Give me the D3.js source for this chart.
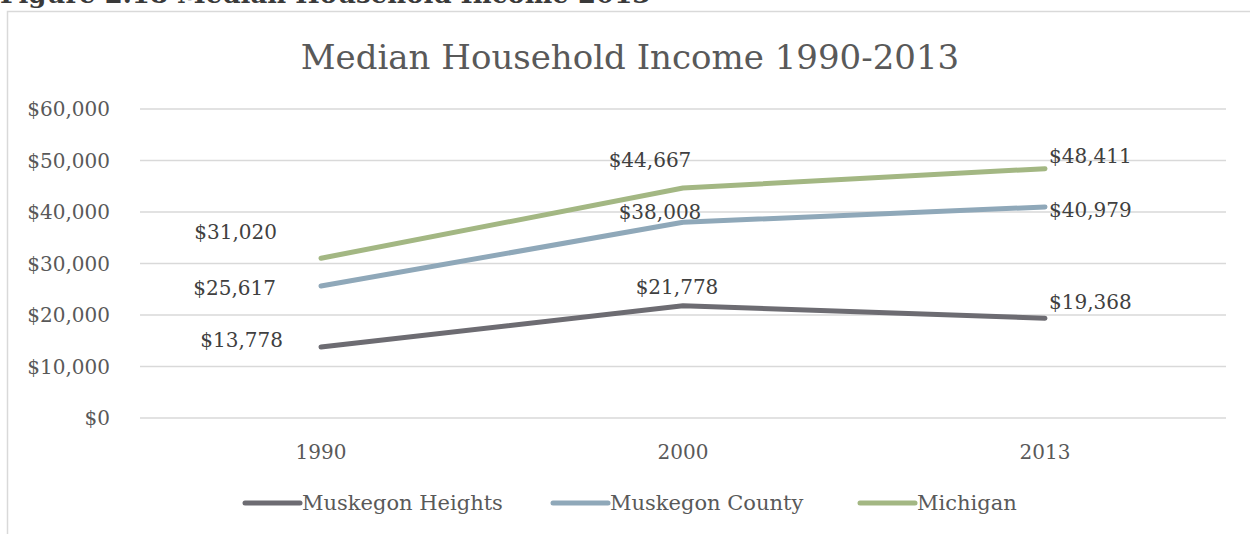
<!DOCTYPE html>
<html>
  <head>
    <meta charset="utf-8">
    <script src="https://cdn.jsdelivr.net/npm/d3@7"></script>
    <style>
      body { margin: 0; background: #ffffff; }
      svg text { font-family: "DejaVu Serif", "Liberation Serif", serif; }
    </style>
  </head>
  <body>
    <script>
      // chart data
      var years = ["1990", "2000", "2013"];
      var seriesNames = ["Muskegon Heights", "Muskegon County", "Michigan"];
      var heights = [13778, 21778, 19368];
      var county = [25617, 38008, 40979];
      var michigan = [31020, 44667, 48411];
      var yTicks = [0, 10000, 20000, 30000, 40000, 50000, 60000];
      var colors = ["#6d6c72", "#8fa8b9", "#a3b783"];

      // label nudges (dx, dy) from the data point, per series per year
      var labelNudge = [
        [[-38, -7], [-6, -19], [4, -16]],
        [[-45, 2], [-23, -10], [4, 3]],
        [[-44, -26], [-33, -28], [4, -13]]
      ];

      var width = 1250, height = 534;
      var svg = d3.select("body").append("svg")
        .attr("width", width)
        .attr("height", height);

      // caption, cut off at the top as in the source page
      svg.append("text")
        .attr("x", 0)
        .attr("y", 3)
        .style("font-size", "26px")
        .style("font-weight", "bold")
        .attr("fill", "#3a3a3a")
        .text("Figure 2.18 Median Household Income 2013");

      // chart frame
      svg.append("rect")
        .attr("x", 7.5)
        .attr("y", 11.5)
        .attr("width", 1300)
        .attr("height", 600)
        .attr("fill", "none")
        .attr("stroke", "#d9d9d9")
        .attr("stroke-width", 1.5);

      var xScale = d3.scaleBand()
        .domain(years)
        .range([140, 1226]);

      var yScale = d3.scaleLinear()
        .domain([0, 60000])
        .range([418, 109]);

      function cx(year) { return xScale(year) + xScale.bandwidth() / 2; }

      // gridlines
      svg.selectAll("line.grid")
        .data(yTicks)
        .enter()
        .append("line")
        .attr("class", "grid")
        .attr("x1", 140)
        .attr("x2", 1226)
        .attr("y1", function(d) { return yScale(d); })
        .attr("y2", function(d) { return yScale(d); })
        .attr("stroke", "#d9d9d9")
        .attr("stroke-width", 1.5);

      // y axis labels
      var fmt = d3.format("$,.0f");
      svg.selectAll("text.ytick")
        .data(yTicks)
        .enter()
        .append("text")
        .attr("class", "ytick")
        .attr("x", 110)
        .attr("y", function(d) { return yScale(d); })
        .attr("dy", "0.35em")
        .attr("text-anchor", "end")
        .style("font-size", "20px")
        .attr("fill", "#595959")
        .text(function(d) { return fmt(d); });

      // x axis labels
      svg.selectAll("text.xtick")
        .data(years)
        .enter()
        .append("text")
        .attr("class", "xtick")
        .attr("x", function(d) { return cx(d); })
        .attr("y", 452)
        .attr("dy", "0.35em")
        .attr("text-anchor", "middle")
        .style("font-size", "20px")
        .attr("fill", "#595959")
        .text(function(d) { return d; });

      // title
      svg.append("text")
        .attr("x", 630)
        .attr("y", 57)
        .attr("dy", "0.35em")
        .attr("text-anchor", "middle")
        .style("font-size", "34px")
        .attr("fill", "#595959")
        .text("Median Household Income 1990-2013");

      var series = [heights, county, michigan];
      var line = d3.line()
        .x(function(d, i) { return cx(years[i]); })
        .y(function(d) { return yScale(d); });

      series.forEach(function(values, s) {
        svg.append("path")
          .datum(values)
          .attr("d", line)
          .attr("fill", "none")
          .attr("stroke", colors[s])
          .attr("stroke-width", 5)
          .attr("stroke-linecap", "round")
          .attr("stroke-linejoin", "round");
      });

      // data labels
      var anchors = ["end", "middle", "start"];
      series.forEach(function(values, s) {
        values.forEach(function(v, i) {
          svg.append("text")
            .attr("x", cx(years[i]) + labelNudge[s][i][0])
            .attr("y", yScale(v) + labelNudge[s][i][1])
            .attr("dy", "0.35em")
            .attr("text-anchor", anchors[i])
            .style("font-size", "20px")
            .attr("fill", "#404040")
            .text(fmt(v));
        });
      });

      // legend
      var legendX = [245, 553, 860];
      seriesNames.forEach(function(name, s) {
        var g = svg.append("g")
          .attr("transform", "translate(" + legendX[s] + ",503)");
        g.append("line")
          .attr("x1", 0)
          .attr("x2", 55)
          .attr("stroke", colors[s])
          .attr("stroke-width", 5)
          .attr("stroke-linecap", "round");
        g.append("text")
          .attr("x", 57)
          .attr("dy", "0.35em")
          .style("font-size", "21px")
          .attr("fill", "#595959")
          .text(name);
      });
    </script>
  </body>
</html>
